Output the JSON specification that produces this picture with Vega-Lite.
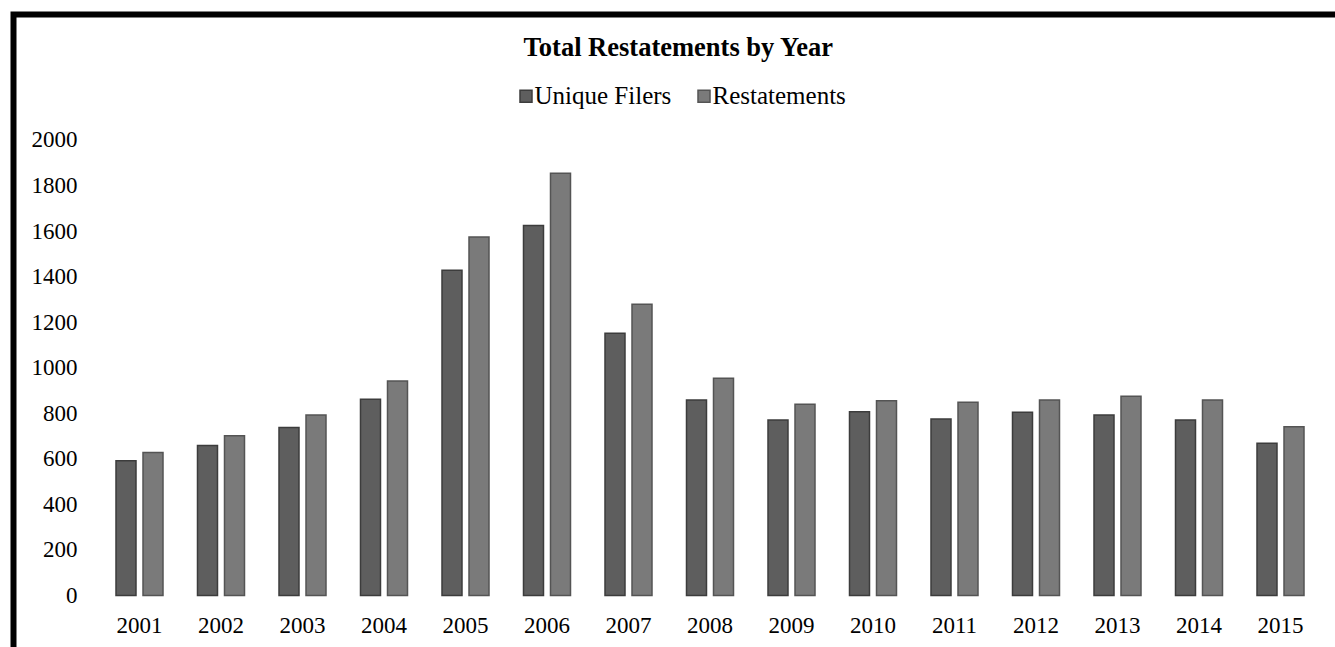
{
  "$schema": "https://vega.github.io/schema/vega-lite/v6.json",
  "autosize": "none",
  "padding": {"left": 13.5, "top": 14.5, "right": 0, "bottom": 0},
  "width": 1321.5,
  "height": 632.5,
  "background": "white",
  "title": {
    "text": "Total Restatements by Year",
    "font": "Liberation Serif",
    "fontSize": 26.5,
    "fontWeight": "bold",
    "color": "black",
    "anchor": "middle",
    "frame": "group",
    "baseline": "alphabetic",
    "offset": 0,
    "dx": 4,
    "dy": 68
  },
  "config": {
    "view": {
      "stroke": "black",
      "strokeWidth": 6,
      "strokeDash": [1321.5, 1954, 632.5],
      "strokeCap": "square",
      "fill": "white"
    }
  },
  "data": {
    "values": [
      {"year": "2001", "series": "Unique Filers", "value": 592},
      {"year": "2001", "series": "Restatements", "value": 628},
      {"year": "2002", "series": "Unique Filers", "value": 658},
      {"year": "2002", "series": "Restatements", "value": 701},
      {"year": "2003", "series": "Unique Filers", "value": 738},
      {"year": "2003", "series": "Restatements", "value": 792},
      {"year": "2004", "series": "Unique Filers", "value": 862},
      {"year": "2004", "series": "Restatements", "value": 942},
      {"year": "2005", "series": "Unique Filers", "value": 1428},
      {"year": "2005", "series": "Restatements", "value": 1574},
      {"year": "2006", "series": "Unique Filers", "value": 1624},
      {"year": "2006", "series": "Restatements", "value": 1854},
      {"year": "2007", "series": "Unique Filers", "value": 1151},
      {"year": "2007", "series": "Restatements", "value": 1278},
      {"year": "2008", "series": "Unique Filers", "value": 858},
      {"year": "2008", "series": "Restatements", "value": 954},
      {"year": "2009", "series": "Unique Filers", "value": 770},
      {"year": "2009", "series": "Restatements", "value": 839},
      {"year": "2010", "series": "Unique Filers", "value": 807},
      {"year": "2010", "series": "Restatements", "value": 855},
      {"year": "2011", "series": "Unique Filers", "value": 775},
      {"year": "2011", "series": "Restatements", "value": 848},
      {"year": "2012", "series": "Unique Filers", "value": 804},
      {"year": "2012", "series": "Restatements", "value": 858},
      {"year": "2013", "series": "Unique Filers", "value": 792},
      {"year": "2013", "series": "Restatements", "value": 875},
      {"year": "2014", "series": "Unique Filers", "value": 770},
      {"year": "2014", "series": "Restatements", "value": 858},
      {"year": "2015", "series": "Unique Filers", "value": 668},
      {"year": "2015", "series": "Restatements", "value": 741}
    ]
  },
  "mark": {"type": "bar", "strokeWidth": 1.5},
  "encoding": {
    "x": {
      "field": "year",
      "type": "nominal",
      "scale": {"paddingInner": 0.4233, "paddingOuter": 0.819, "align": 0.7678, "round": false},
      "axis": {
        "title": null,
        "orient": "bottom",
        "offset": -51.5,
        "domain": false,
        "ticks": false,
        "tickSize": 0,
        "labelAngle": 0,
        "labelFont": "Liberation Serif",
        "labelFontSize": 23,
        "labelColor": "black",
        "labelBaseline": "middle",
        "labelPadding": 29.5
      }
    },
    "xOffset": {
      "field": "series",
      "type": "nominal",
      "sort": ["Unique Filers", "Restatements"],
      "scale": {"paddingInner": 0.2593, "paddingOuter": 0}
    },
    "y": {
      "field": "value",
      "type": "quantitative",
      "stack": null,
      "scale": {"domain": [-226.1, 2550.5], "nice": false, "zero": false},
      "axis": {
        "title": null,
        "format": "d",
        "values": [0, 200, 400, 600, 800, 1000, 1200, 1400, 1600, 1800, 2000],
        "offset": -85.5,
        "domain": false,
        "ticks": false,
        "tickSize": 0,
        "grid": false,
        "labelFont": "Liberation Serif",
        "labelFontSize": 23,
        "labelColor": "black",
        "labelPadding": 22
      }
    },
    "y2": {"datum": 0},
    "color": {
      "field": "series",
      "type": "nominal",
      "sort": ["Unique Filers", "Restatements"],
      "scale": {"domain": ["Unique Filers", "Restatements"], "range": ["#5e5e5e", "#7a7a7a"]},
      "legend": {
        "title": null,
        "orient": "none",
        "direction": "horizontal",
        "legendX": 500,
        "legendY": 69,
        "padding": 0,
        "symbolType": "square",
        "symbolSize": 144,
        "symbolStrokeWidth": 1.5,
        "symbolOpacity": 1,
        "labelFont": "Liberation Serif",
        "labelFontSize": 25,
        "labelColor": "black",
        "labelOffset": -4,
        "columnPadding": 20
      }
    },
    "stroke": {
      "field": "series",
      "type": "nominal",
      "sort": ["Unique Filers", "Restatements"],
      "scale": {"domain": ["Unique Filers", "Restatements"], "range": ["#3c3c3c", "#545454"]},
      "legend": null
    }
  }
}
